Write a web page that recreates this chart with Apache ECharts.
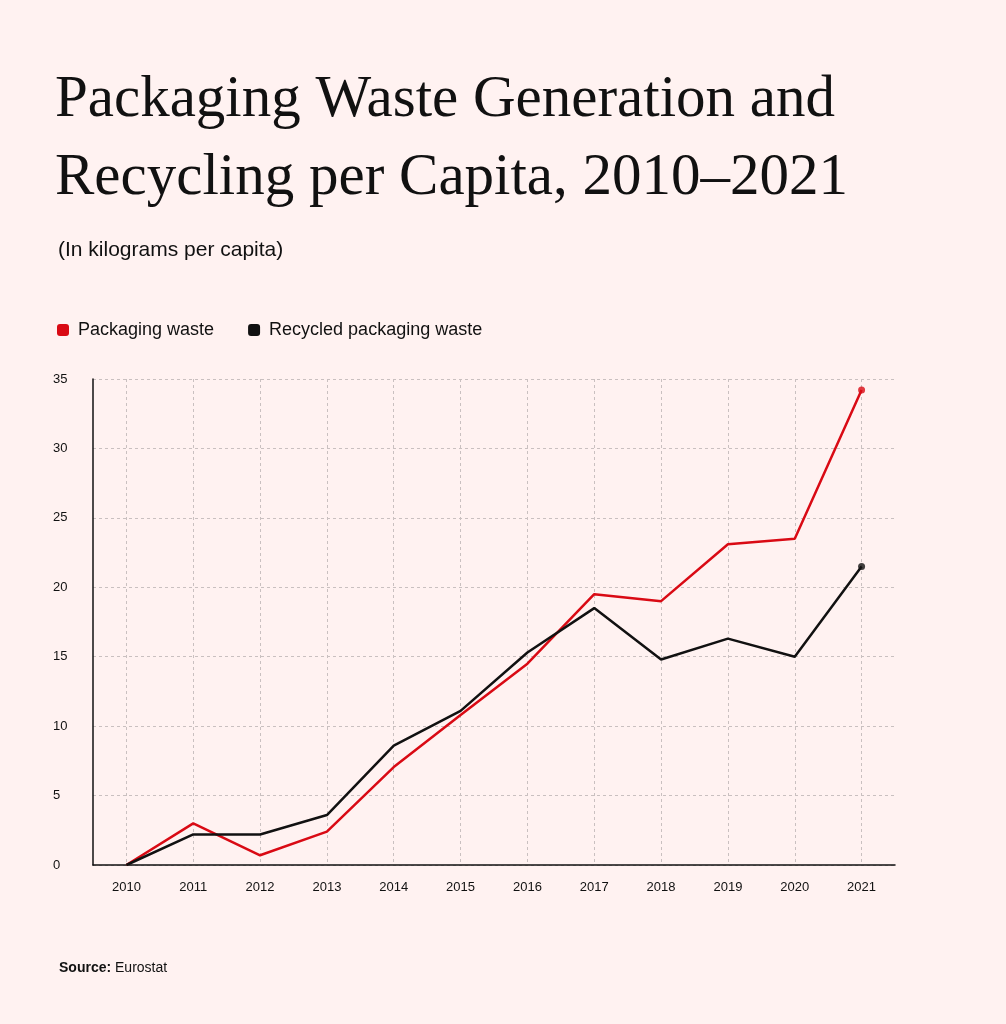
<!DOCTYPE html>
<html><head><meta charset="utf-8">
<script src="https://cdn.jsdelivr.net/npm/echarts@6/dist/echarts.min.js"></script>
<style>html,body{margin:0;background:#fff2f1;}#c{width:1006px;height:1024px;}</style>
</head><body><div id="c"></div>
<script>
var years = ['2010','2011','2012','2013','2014','2015','2016','2017','2018','2019','2020','2021'];
var packaging = [0, 3.0, 0.7, 2.4, 7.05, 10.8, 14.5, 19.5, 19.0, 23.1, 23.5, 34.2];
var recycled = [0, 2.2, 2.2, 3.6, 8.6, 11.1, 15.3, 18.5, 14.8, 16.3, 15.0, 21.5];
var red = '#d90a14', black = '#111111';

var chart = echarts.init(document.getElementById('c'));
var last = years.length - 1;
// grid lines: short dashes like the reference
var gridLine = {color: '#c9c0c0', type: [3, 3], width: 1};
chart.setOption({
    backgroundColor: '#fff2f1',
    animation: false,
    title: [
        {text: 'Packaging Waste Generation and\nRecycling per Capita, 2010\u20132021', left: 50, top: 56,
         textStyle: {fontFamily: 'Liberation Serif', fontWeight: 'normal', fontSize: 59, lineHeight: 78, color: '#111'}},
        {text: '(In kilograms per capita)', left: 53, top: 235,
         textStyle: {fontFamily: 'Liberation Sans', fontWeight: 'normal', fontSize: 21, color: '#111'}},
        {text: '{b|Source:} Eurostat', left: 54, top: 956,
         textStyle: {fontFamily: 'Liberation Sans', fontWeight: 'normal', fontSize: 14, color: '#111', rich: {b: {fontWeight: 'bold', fontSize: 14}}}}
    ],
    legend: {
        left: 52, top: 316, itemWidth: 12, itemHeight: 12, itemGap: 34, icon: 'roundRect',
        textStyle: {fontFamily: 'Liberation Sans', fontSize: 18, color: '#111', padding: [0, 0, 0, 4]},
        data: ['Packaging waste', 'Recycled packaging waste']
    },
    grid: [
        {left: 93, right: 111, top: 379, bottom: 159},
        {left: 126.4, right: 144.4, top: 379, bottom: 159}
    ],
    xAxis: [
        {type: 'category', gridIndex: 0, data: years, boundaryGap: true,
         axisLine: {lineStyle: {color: '#111', width: 1.5}}, axisTick: {show: false},
         axisLabel: {color: '#111', fontSize: 13, fontFamily: 'Liberation Sans', margin: 16},
         splitLine: {show: false}},
        {type: 'category', gridIndex: 1, data: years, boundaryGap: false,
         axisLine: {show: false}, axisTick: {show: false}, axisLabel: {show: false},
         splitLine: {show: true, lineStyle: gridLine}}
    ],
    yAxis: [
        {type: 'value', gridIndex: 0, min: 0, max: 35, interval: 5,
         axisLine: {show: true, lineStyle: {color: '#111', width: 1.5}}, axisTick: {show: false},
         axisLabel: {color: '#111', fontSize: 13, fontFamily: 'Liberation Sans', align: 'left', margin: 40},
         splitLine: {show: true, lineStyle: gridLine}},
        {type: 'value', gridIndex: 1, min: 0, max: 35, interval: 5, show: false, splitLine: {show: false}}
    ],
    series: [
        {name: 'Packaging waste', type: 'line', data: packaging, showSymbol: false, color: red,
         lineStyle: {width: 2.5, color: red}, z: 3},
        {name: 'Recycled packaging waste', type: 'line', data: recycled, showSymbol: false, color: black,
         lineStyle: {width: 2.5, color: black}, z: 4},
        {type: 'scatter', data: [[last, packaging[last]]], symbolSize: 7, itemStyle: {color: red}, z: 5},
        {type: 'scatter', data: [[last, recycled[last]]], symbolSize: 7, itemStyle: {color: black}, z: 5}
    ]
});
</script></body></html>
